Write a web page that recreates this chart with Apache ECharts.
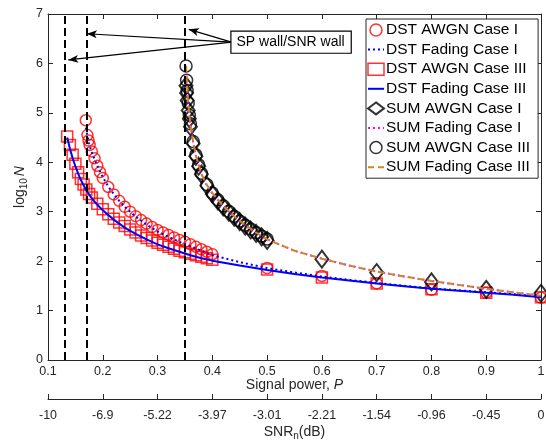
<!DOCTYPE html>
<html>
<head>
<meta charset="utf-8">
<script src="https://cdn.jsdelivr.net/npm/echarts@6/dist/echarts.min.js"></script>
<style>
html, body { margin: 0; padding: 0; background: #fff; }
#chart { width: 546px; height: 441px; }
</style>
</head>
<body>
<div id="chart"></div>
<script>
// Signal power axis and the matching normalised SNR labels (dB)
const snrLabels = ['-10', '-6.9', '-5.22', '-3.97', '-3.01', '-2.21', '-1.54', '-0.96', '-0.45', '0'];

// SP wall / SNR wall positions
const wallPositions = [0.134, 0.169, 0.351];

// DST, AWGN, Case I
const dstAwgnIx = [0.169, 0.172, 0.174, 0.176, 0.18, 0.185, 0.19, 0.195, 0.2, 0.21, 0.22, 0.23, 0.24, 0.25, 0.26, 0.27, 0.28, 0.29, 0.3, 0.31, 0.32, 0.33, 0.34, 0.35, 0.36, 0.37, 0.38, 0.39, 0.4, 0.5, 0.6, 0.7, 0.8, 0.9, 1.0];
const dstAwgnIy = [4.85, 4.55, 4.44, 4.35, 4.22, 4.08, 3.93, 3.80, 3.68, 3.50, 3.35, 3.22, 3.10, 3.00, 2.91, 2.83, 2.76, 2.69, 2.63, 2.58, 2.53, 2.48, 2.43, 2.39, 2.34, 2.29, 2.24, 2.19, 2.14, 1.86, 1.70, 1.55, 1.42, 1.36, 1.26];

// DST, Fading, Case I
const dstFadingIx = [0.169, 0.172, 0.175, 0.18, 0.185, 0.19, 0.2, 0.21, 0.22, 0.23, 0.24, 0.26, 0.28, 0.3, 0.32, 0.34, 0.36, 0.38, 0.4, 0.45, 0.5, 0.55, 0.6, 0.65, 0.7, 0.75, 0.8, 0.85, 0.9, 0.95, 1.0];
const dstFadingIy = [4.70, 4.52, 4.38, 4.20, 4.06, 3.93, 3.70, 3.51, 3.36, 3.22, 3.10, 2.90, 2.74, 2.60, 2.49, 2.39, 2.30, 2.21, 2.12, 1.98, 1.86, 1.77, 1.69, 1.62, 1.56, 1.50, 1.45, 1.41, 1.37, 1.33, 1.28];

// DST, AWGN, Case III
const dstAwgnIIIx = [0.135, 0.14, 0.145, 0.15, 0.155, 0.16, 0.165, 0.17, 0.175, 0.18, 0.19, 0.2, 0.21, 0.22, 0.23, 0.24, 0.25, 0.26, 0.27, 0.28, 0.29, 0.3, 0.31, 0.32, 0.33, 0.34, 0.35, 0.36, 0.37, 0.38, 0.39, 0.4, 0.5, 0.6, 0.7, 0.8, 0.9, 1.0];
const dstAwgnIIIy = [4.52, 4.35, 4.15, 3.97, 3.80, 3.66, 3.55, 3.45, 3.36, 3.29, 3.16, 3.05, 2.95, 2.86, 2.78, 2.71, 2.64, 2.58, 2.52, 2.47, 2.42, 2.37, 2.33, 2.29, 2.25, 2.21, 2.18, 2.15, 2.12, 2.09, 2.06, 2.03, 1.83, 1.67, 1.55, 1.43, 1.36, 1.27];

// DST, Fading, Case III
const dstFadingIIIx = [0.135, 0.14, 0.145, 0.15, 0.155, 0.16, 0.17, 0.18, 0.19, 0.2, 0.22, 0.24, 0.26, 0.28, 0.3, 0.32, 0.34, 0.36, 0.38, 0.4, 0.45, 0.5, 0.55, 0.6, 0.65, 0.7, 0.75, 0.8, 0.85, 0.9, 0.95, 1.0];
const dstFadingIIIy = [4.50, 4.28, 4.08, 3.92, 3.77, 3.64, 3.43, 3.27, 3.14, 3.03, 2.84, 2.68, 2.55, 2.44, 2.34, 2.26, 2.19, 2.12, 2.06, 2.01, 1.91, 1.82, 1.74, 1.67, 1.61, 1.55, 1.49, 1.44, 1.40, 1.36, 1.32, 1.27];

// SUM, AWGN, Case I
const sumAwgnIx = [0.352, 0.353, 0.354, 0.356, 0.358, 0.36, 0.365, 0.37, 0.375, 0.38, 0.39, 0.4, 0.41, 0.42, 0.43, 0.44, 0.45, 0.46, 0.47, 0.48, 0.49, 0.5, 0.6, 0.7, 0.8, 0.9, 1.0];
const sumAwgnIy = [5.55, 5.40, 5.25, 5.05, 4.88, 4.72, 4.38, 4.12, 3.92, 3.76, 3.53, 3.36, 3.22, 3.10, 2.99, 2.89, 2.80, 2.71, 2.63, 2.56, 2.49, 2.42, 2.04, 1.77, 1.58, 1.43, 1.35];

// SUM, Fading, Case I and Case III
const sumFadingx = [0.352, 0.354, 0.356, 0.36, 0.365, 0.37, 0.38, 0.39, 0.4, 0.42, 0.44, 0.46, 0.48, 0.5, 0.55, 0.6, 0.65, 0.7, 0.75, 0.8, 0.85, 0.9, 0.95, 1.0];
const sumFadingIy = [5.85, 5.45, 5.15, 4.75, 4.40, 4.13, 3.76, 3.53, 3.37, 3.11, 2.90, 2.72, 2.57, 2.44, 2.21, 2.05, 1.91, 1.79, 1.69, 1.60, 1.52, 1.44, 1.37, 1.30];
const sumFadingIIIy = [5.95, 5.50, 5.18, 4.77, 4.42, 4.14, 3.77, 3.54, 3.38, 3.12, 2.91, 2.73, 2.58, 2.44, 2.21, 2.05, 1.91, 1.79, 1.69, 1.60, 1.52, 1.44, 1.37, 1.30];

// SUM, AWGN, Case III
const sumAwgnIIIx = [0.352, 0.353, 0.354, 0.356, 0.358, 0.36, 0.365, 0.37, 0.375, 0.38, 0.39, 0.4, 0.41, 0.42, 0.43, 0.44, 0.45, 0.46, 0.47, 0.48, 0.49, 0.5];
const sumAwgnIIIy = [5.95, 5.66, 5.45, 5.20, 4.95, 4.78, 4.42, 4.15, 3.95, 3.78, 3.55, 3.38, 3.24, 3.12, 3.01, 2.91, 2.81, 2.73, 2.65, 2.58, 2.51, 2.45];

// Annotation: text anchor and arrow tips (data coordinates)
const noteText = 'SP wall/SNR wall';
const noteAnchor = [0.435, 6.43];
const arrowTips = [[0.137, 6.07], [0.171, 6.60], [0.357, 6.69]];

const zip = (xs, ys) => xs.map((x, i) => [x, ys[i]]);

const FONT = "'Liberation Sans', Arial, Helvetica, sans-serif";
const AX = '#262626';

const hollow = (c, w) => ({ color: 'rgba(0,0,0,0)', borderColor: c, borderWidth: w });
const lineOnly = { color: 'rgba(0,0,0,0)', borderWidth: 0 };

const chart = echarts.init(document.getElementById('chart'), null, { renderer: 'canvas' });

const axisLine = () => ({ show: true, onZero: false, lineStyle: { color: AX, width: 1 } });
const axisTick = () => ({ show: true, inside: true, length: 5, lineStyle: { color: AX, width: 1 } });

const option = {
  animation: false,
  backgroundColor: '#fff',
  textStyle: { fontFamily: FONT },
  grid: { left: 48, right: 5, top: 14, bottom: 81, containLabel: false, outerBoundsMode: 'none' },
  xAxis: [
    {
      type: 'value', min: 0.1, max: 1, interval: 0.1, position: 'bottom',
      axisLine: axisLine(), axisTick: axisTick(), splitLine: { show: false },
      axisLabel: { color: AX, fontSize: 12.5, margin: 5, fontFamily: FONT },
      name: '{n|Signal power, }{i|P}', nameLocation: 'middle', nameGap: 18, nameMoveOverlap: false,
      nameTextStyle: { rich: {
        n: { fontSize: 14, color: AX, fontFamily: FONT },
        i: { fontSize: 14, color: AX, fontStyle: 'italic', fontFamily: FONT }
      } }
    },
    {
      type: 'value', min: 0.1, max: 1, interval: 0.1, position: 'bottom', offset: 39,
      axisLine: axisLine(), axisTick: axisTick(), splitLine: { show: false },
      axisLabel: {
        color: AX, fontSize: 12.5, margin: 10, fontFamily: FONT,
        formatter: v => snrLabels[Math.round((v - 0.1) / 0.1)]
      },
      name: '{n|SNR}{s|n}{n|(dB)}', nameLocation: 'middle', nameGap: 24, nameMoveOverlap: false,
      nameTextStyle: { rich: {
        n: { fontSize: 14, color: AX, fontFamily: FONT },
        s: { fontSize: 10, color: AX, fontFamily: FONT, padding: [8, 0, 0, 0] }
      } }
    },
    {
      type: 'value', min: 0.1, max: 1, interval: 0.1, position: 'top',
      axisLine: axisLine(), axisTick: axisTick(), splitLine: { show: false },
      axisLabel: { show: false }
    }
  ],
  yAxis: [
    {
      type: 'value', min: 0, max: 7, interval: 1, position: 'left',
      axisLine: axisLine(), axisTick: axisTick(), splitLine: { show: false },
      axisLabel: { color: AX, fontSize: 12.5, margin: 5, fontFamily: FONT },
      name: '{n|log}{s|10}{i|N}', nameLocation: 'middle', nameGap: 19, nameRotate: 90, nameMoveOverlap: false,
      nameTextStyle: { rich: {
        n: { fontSize: 14, color: AX, fontFamily: FONT },
        s: { fontSize: 10, color: AX, fontFamily: FONT, padding: [8, 2, 0, 0] },
        i: { fontSize: 14, color: AX, fontStyle: 'italic', fontFamily: FONT }
      } }
    },
    {
      type: 'value', min: 0, max: 7, interval: 1, position: 'right',
      axisLine: axisLine(), axisTick: axisTick(), splitLine: { show: false },
      axisLabel: { show: false }
    }
  ],
  legend: {
    orient: 'vertical', left: 366, top: 19,
    backgroundColor: '#fff', borderColor: AX, borderWidth: 1,
    padding: [3, 8, 3, 1], itemGap: 3.6, itemWidth: 16, itemHeight: 12,
    textStyle: { fontSize: 15.5, color: '#000', fontFamily: FONT, padding: [0, 0, 0, -3] },
    data: [
      { name: 'DST AWGN Case I', icon: 'circle', itemStyle: hollow('#ff0000', 1.5) },
      { name: 'DST Fading Case I', itemStyle: lineOnly },
      { name: 'DST AWGN Case III', icon: 'rect', itemStyle: hollow('#ff0000', 1.5) },
      { name: 'DST Fading Case III', itemStyle: lineOnly },
      { name: 'SUM AWGN Case I', icon: 'diamond', itemStyle: hollow('#000', 2) },
      { name: 'SUM Fading Case I', itemStyle: lineOnly },
      { name: 'SUM AWGN Case III', icon: 'circle', itemStyle: hollow('#000', 1.5) },
      { name: 'SUM Fading Case III', itemStyle: lineOnly }
    ]
  },
  series: [
    {
      // dashed wall markers
      name: 'walls', type: 'line', data: [], silent: true,
      markLine: {
        silent: true, symbol: ['none', 'none'], animation: false,
        label: { show: false },
        lineStyle: { color: '#000', width: 2, type: [8, 4] },
        data: wallPositions.map(v => ({ xAxis: v }))
      }
    },
    {
      name: 'DST AWGN Case I', type: 'scatter', symbol: 'circle', symbolSize: 11,
      itemStyle: hollow('#ff0000', 1.5), data: zip(dstAwgnIx, dstAwgnIy)
    },
    {
      name: 'DST Fading Case I', type: 'line', symbol: 'none',
      lineStyle: { color: '#0000ff', width: 2, type: [2, 3] }, itemStyle: { color: '#0000ff' },
      data: zip(dstFadingIx, dstFadingIy)
    },
    {
      name: 'DST AWGN Case III', type: 'scatter', symbol: 'rect', symbolSize: 11,
      itemStyle: hollow('#ff0000', 1.5), data: zip(dstAwgnIIIx, dstAwgnIIIy)
    },
    {
      name: 'DST Fading Case III', type: 'line', symbol: 'none',
      lineStyle: { color: '#0000ff', width: 2 }, itemStyle: { color: '#0000ff' },
      data: zip(dstFadingIIIx, dstFadingIIIy)
    },
    {
      name: 'SUM AWGN Case I', type: 'scatter', symbol: 'diamond', symbolSize: [13, 17],
      itemStyle: hollow('#000', 2), data: zip(sumAwgnIx, sumAwgnIy)
    },
    {
      name: 'SUM Fading Case I', type: 'line', symbol: 'none',
      lineStyle: { color: '#ff00ff', width: 2, type: [2, 3] }, itemStyle: { color: '#ff00ff' },
      data: zip(sumFadingx, sumFadingIy)
    },
    {
      name: 'SUM AWGN Case III', type: 'scatter', symbol: 'circle', symbolSize: 12,
      itemStyle: hollow('#000', 1.5), data: zip(sumAwgnIIIx, sumAwgnIIIy)
    },
    {
      name: 'SUM Fading Case III', type: 'line', symbol: 'none',
      lineStyle: { color: '#cc8a1e', width: 2, type: [6, 4] }, itemStyle: { color: '#cc8a1e' },
      data: zip(sumFadingx, sumFadingIIIy)
    },
    {
      // callout box with arrows pointing at the walls
      name: 'note', type: 'line', data: [], silent: true, z: 10,
      markLine: {
        silent: true, symbol: ['none', 'arrow'], symbolSize: [6, 10], animation: false,
        label: { show: false },
        lineStyle: { color: '#000', width: 1.2, type: 'solid' },
        data: arrowTips.map(t => [{ coord: noteAnchor }, { coord: t }])
      },
      markPoint: {
        silent: true, symbol: 'rect', symbolSize: 0, animation: false,
        data: [{ coord: noteAnchor }],
        label: {
          show: true, position: 'right', distance: 0, formatter: noteText,
          color: '#000', fontSize: 14, fontFamily: FONT,
          backgroundColor: '#fff', borderColor: '#000', borderWidth: 1.2,
          padding: [4, 6, 3, 5]
        }
      }
    }
  ]
};

chart.setOption(option);
</script>
</body>
</html>
